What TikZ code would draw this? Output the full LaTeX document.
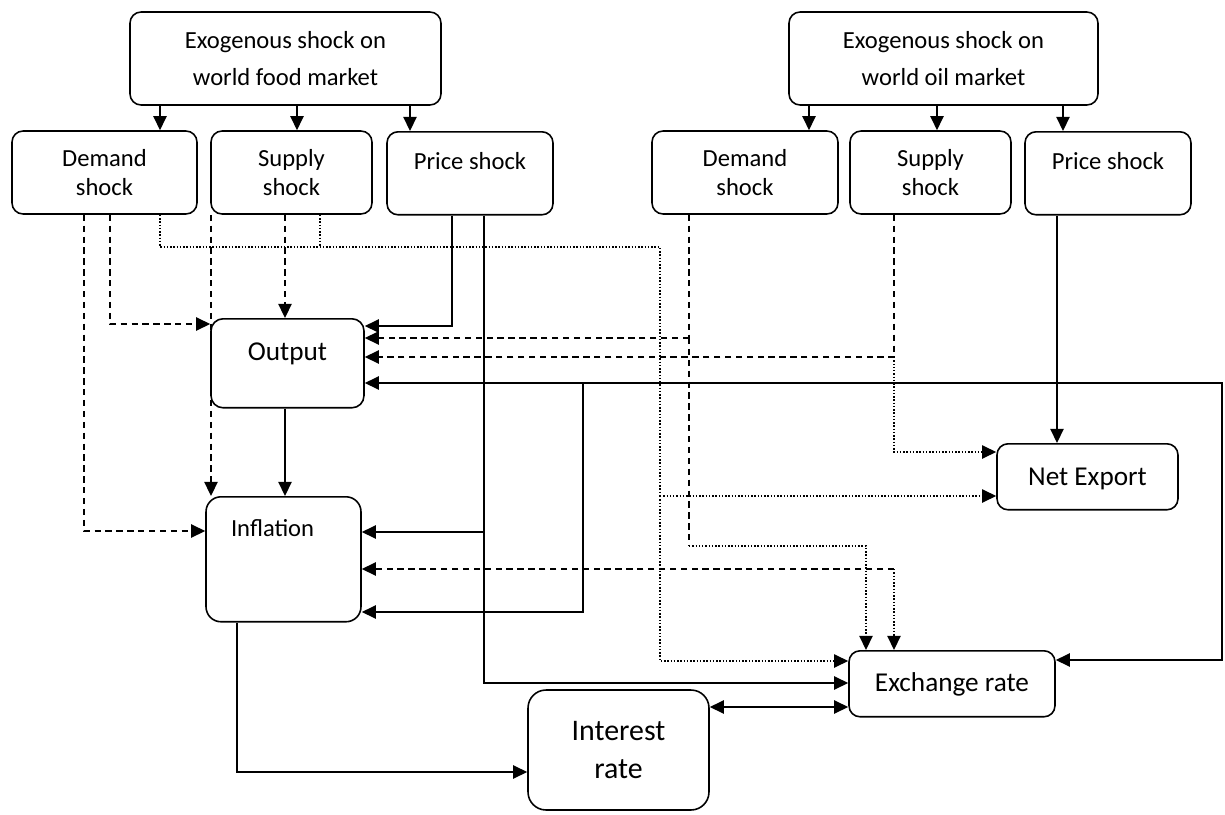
\documentclass[tikz,border=0pt]{standalone}
\usepackage{fontspec}
\setmainfont{Carlito}
\usetikzlibrary{arrows.meta}
\begin{document}
\begin{tikzpicture}[x=0.02cm, y=-0.02cm, >={Triangle[length=8pt,width=7.5pt]}, line width=0.9pt,
  box/.style={draw, rounded corners=0.22cm, inner sep=0pt, align=center, font=\fontsize{14}{16.5}\selectfont},
  bigtext/.style={font=\fontsize{15.5}{18}\selectfont},
  dashline/.style={line width=1pt, dash pattern=on 3.6pt off 2.6pt},
  dotline/.style={line width=0.85pt, dash pattern=on 0.85pt off 1pt}]
\useasboundingbox (0,0) rectangle (1225,815);
% market shocks
\node[box, minimum width=6.22cm, minimum height=1.86cm, font=\fontsize{14}{21.5}\selectfont] (food) at (285.5,58.5) {Exogenous shock on\\world food market};
\node[box, minimum width=6.18cm, minimum height=1.86cm, font=\fontsize{14}{21.5}\selectfont] (oil) at (943.5,58.5) {Exogenous shock on\\world oil market};
\node[box, minimum width=3.7cm, minimum height=1.66cm] (fdem) at (104.5,172.5) {Demand\\shock};
\node[box, minimum width=3.22cm, minimum height=1.66cm] (fsup) at (291.5,172.5) {Supply\\shock};
\node[box, minimum width=3.32cm, text height=0.76cm, text depth=0.9cm, anchor=north] (fprc) at (470,131) {Price shock};
\node[box, minimum width=3.72cm, minimum height=1.66cm] (odem) at (745,172.5) {Demand\\shock};
\node[box, minimum width=3.22cm, minimum height=1.66cm] (osup) at (930.5,172.5) {Supply\\shock};
\node[box, minimum width=3.32cm, text height=0.76cm, text depth=0.9cm, anchor=north] (oprc) at (1108,131) {Price shock};
% macro variables
\node[box, bigtext, rounded corners=0.24cm, minimum width=3.06cm, text height=0.84cm, text depth=0.94cm, anchor=north] (out) at (287.5,318) {Output};
\node[box, rounded corners=0.3cm, text width=2.1cm, inner xsep=0.5cm, align=left, text height=0.8cm, text depth=1.7cm, anchor=north] (infl) at (283.5,496) {Inflation};
\node[box, bigtext, minimum width=3.62cm, text height=0.84cm, text depth=0.48cm, anchor=north] (ne) at (1087.5,443) {Net Export};
\node[box, bigtext, minimum width=4.12cm, text height=0.82cm, text depth=0.5cm, anchor=north] (ex) at (952,650) {Exchange rate};
\node[box, rounded corners=0.36cm, minimum width=3.62cm, minimum height=2.4cm, font=\fontsize{17}{21.5}\selectfont] (ir) at (618.5,750) {Interest\\rate};
% junctions
\coordinate (dl) at (320,247);
\coordinate (dj) at (660,496);
\coordinate (pj) at (484,532);
\coordinate (oj) at (689,338);
\coordinate (oj2) at (689,546);
\coordinate (sj) at (894,357);
\coordinate (ij) at (894,569);
\coordinate (rj) at (1057,383);
\coordinate (lj) at (583,383);
% markets to shocks
\foreach \x/\n in {160/fdem, 297/fsup, 410/fprc}
  \draw[->] (food.south -| \x,0) -- (\n.north -| \x,0);
\foreach \x/\n in {809/odem, 937/osup, 1063/oprc}
  \draw[->] (oil.south -| \x,0) -- (\n.north -| \x,0);
% food demand and supply
\draw[dashline,->] (fdem.south -| 84,0) |- (infl.west |- 0,531);
\draw[dashline,->] (fdem.south -| 110,0) |- (out.west |- 0,324);
\draw[dotline] (fdem.south -| 160,0) |- (660,247) -- (dj);
\draw[dotline] (fsup.south -| dl) -- (dl);
\draw[dotline,->] (dj) -- (ne.west |- dj);
\draw[dotline,->] (dj) |- (ex.west |- 0,661);
\draw[dashline,->] (fsup.south -| 211,0) -- (infl.north -| 211,0);
\draw[dashline,->] (fsup.south -| 285,0) -- (out.north -| 285,0);
% food price
\draw[->] (fprc.south -| 452,0) |- (out.east |- 0,326);
\draw[->] (fprc.south -| pj) -- (pj) -- (infl.east |- pj);
\draw[->] (pj) |- (ex.west |- 0,683);
\draw[->] (out.south -| 285,0) -- (infl.north -| 285,0);
% oil demand and supply
\draw[dashline, line width=1.4pt] (odem.south -| oj) -- (oj);
\draw[dashline,->] (oj) -- (out.east |- oj);
\draw[dashline] (oj) -- (oj2);
\draw[dotline,->] (oj2) -| (ex.north -| 866,0);
\draw[dashline,->] (osup.south -| sj) -- (sj) -- (out.east |- sj);
\draw[dotline,->] (sj) |- (ne.west |- 0,452);
\draw[dashline,->] (ij) -- (infl.east |- ij);
\draw[dotline,->] (ij) -- (ex.north -| ij);
% oil price
\draw[->] (oprc.south -| rj) -- (rj) -- (out.east |- rj);
\draw[->] (rj) -- (ne.north -| rj);
\draw[->] (rj) -| (1222,660) -- (ex.east |- 0,660);
\draw[->] (lj) |- (infl.east |- 0,612);
% interest rate
\draw[->] (infl.south -| 237,0) |- (ir.west |- 0,772);
\draw[<->] (ir.east |- 0,707) -- (ex.west |- 0,707);
\end{tikzpicture}
\end{document}
